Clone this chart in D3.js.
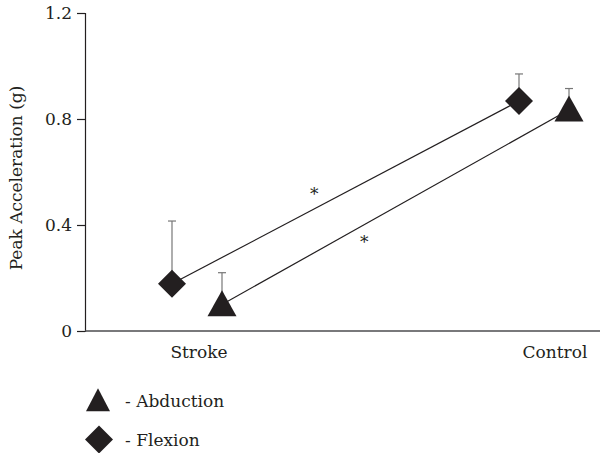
<!DOCTYPE html>
<html>
<head>
<meta charset="utf-8">
<script src="https://cdn.jsdelivr.net/npm/d3@7"></script>
<style>
  html, body { margin: 0; padding: 0; background: #fff; }
</style>
</head>
<body>
<svg id="chart" width="602" height="453"></svg>
<script>
// Groups and tick labels
const groups = ["Stroke", "Control"];
const yTicks = [0, 0.4, 0.8, 1.2];

// Peak acceleration (g): mean and upper error (mean + SD)
const abductionMean = [0.10, 0.835];
const abductionUpper = [0.22, 0.915];
const flexionMean = [0.178, 0.868];
const flexionUpper = [0.415, 0.97];

// Significance markers, one per series (flexion, abduction)
const sigLabels = ["*", "*"];

const svg = d3.select("#chart");
const margin = { left: 85, top: 13, right: 2, bottom: 122 };
const W = 602, H = 453;
const FS = 17;
const FONT = "'DejaVu Serif', 'Liberation Serif', serif";
const ink = "#231f20";

const y = d3.scaleLinear().domain([0, 1.2]).range([H - margin.bottom, margin.top]);
const x = d3.scalePoint().domain(groups).range([197, 544]);
const offset = 25; // flexion left, abduction right of group centre

function txt(sel) {
  return sel.style("font-family", FONT).style("fill", ink);
}

// y axis
const yAxis = d3.axisLeft(y).tickValues(yTicks)
  .tickFormat(d => d === 0 ? "0" : d3.format(".1f")(d))
  .tickSize(8).tickPadding(5);
const gy = svg.append("g").attr("transform", `translate(${margin.left},0)`).call(yAxis);
gy.select(".domain").attr("stroke", ink).attr("stroke-width", 1.2);
gy.selectAll(".tick line").attr("stroke", ink).attr("stroke-width", 1.2);
txt(gy.selectAll(".tick text").attr("font-size", FS));

// x axis line and group labels
svg.append("line")
  .attr("x1", margin.left).attr("x2", W - margin.right)
  .attr("y1", y(0)).attr("y2", y(0))
  .attr("stroke", "#4d4d4f").attr("stroke-width", 1.4);
const labelShift = { Stroke: 2, Control: 11 };
txt(svg.selectAll(".xlab").data(groups).enter().append("text")
  .attr("x", d => x(d) + labelShift[d]).attr("y", y(0) + 27)
  .attr("text-anchor", "middle").attr("font-size", FS)
  .text(d => d));

// y axis title
txt(svg.append("text")
  .attr("transform", `translate(22,${(y(0) + y(1.2)) / 2 + 6}) rotate(-90)`)
  .attr("text-anchor", "middle").attr("font-size", FS)
  .text("Peak Acceleration (g)"));

const series = [
  { name: "Flexion", mean: flexionMean, upper: flexionUpper, dx: -offset, sigDy: -17 },
  { name: "Abduction", mean: abductionMean, upper: abductionUpper, dx: offset, sigDy: 15 }
];
const px = (s, i) => x(groups[i]) + s.dx;

// error bars (upper only)
series.forEach(s => {
  groups.forEach((g, i) => {
    const cx = px(s, i);
    svg.append("line").attr("x1", cx).attr("x2", cx)
      .attr("y1", y(s.mean[i])).attr("y2", y(s.upper[i]))
      .attr("stroke", "#777").attr("stroke-width", 1.2);
    svg.append("line").attr("x1", cx - 4).attr("x2", cx + 4)
      .attr("y1", y(s.upper[i])).attr("y2", y(s.upper[i]))
      .attr("stroke", "#777").attr("stroke-width", 1.2);
  });
});

// connecting lines
const line = d3.line().x(d => d[0]).y(d => d[1]);
series.forEach(s => {
  svg.append("path")
    .attr("d", line(groups.map((g, i) => [px(s, i), y(s.mean[i])])))
    .attr("fill", "none").attr("stroke", ink).attr("stroke-width", 1.2);
});

// markers
function drawDiamond(cx, cy, r) {
  return `M${cx},${cy - r}L${cx + r},${cy}L${cx},${cy + r}L${cx - r},${cy}Z`;
}
function drawTriangle(cx, cy, w, h) {
  return `M${cx},${cy - h * 0.55}L${cx + w / 2},${cy + h * 0.45}L${cx - w / 2},${cy + h * 0.45}Z`;
}
groups.forEach((g, i) => {
  svg.append("path").attr("d", drawDiamond(px(series[0], i), y(flexionMean[i]), 14)).attr("fill", ink);
  svg.append("path").attr("d", drawTriangle(px(series[1], i), y(abductionMean[i]), 29, 26)).attr("fill", ink);
});

// significance asterisks along each connecting line
const tSig = 0.41;
series.forEach((s, k) => {
  const x0 = px(s, 0), x1 = px(s, 1);
  const y0 = y(s.mean[0]), y1 = y(s.mean[1]);
  const mx = x0 + (x1 - x0) * tSig;
  const my = y0 + (y1 - y0) * tSig + s.sigDy;
  txt(svg.append("text").attr("x", mx).attr("y", my + 8)
    .attr("text-anchor", "middle").attr("font-size", 17).text(sigLabels[k]));
});

// legend
const legend = [
  { label: "- Abduction", kind: "tri", yy: 401 },
  { label: "- Flexion", kind: "dia", yy: 439.5 }
];
legend.forEach(l => {
  if (l.kind === "tri") svg.append("path").attr("d", drawTriangle(98, l.yy, 24, 23)).attr("fill", ink);
  else svg.append("path").attr("d", drawDiamond(99, l.yy, 14)).attr("fill", ink);
  txt(svg.append("text").attr("x", 125).attr("y", l.yy + 6).attr("font-size", FS).text(l.label));
});
</script>
</body>
</html>
